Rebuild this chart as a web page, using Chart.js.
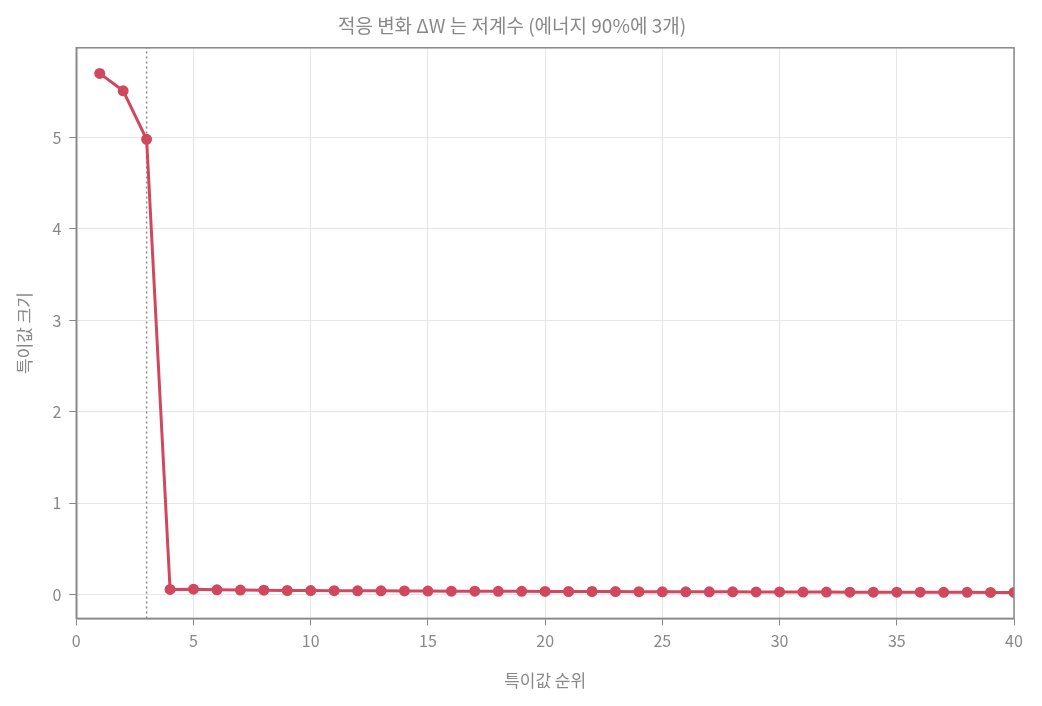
<!DOCTYPE html>
<html>
<head>
<meta charset="utf-8">
<script src="https://cdn.jsdelivr.net/npm/chart.js@4"></script>
<style>
  html, body { margin: 0; padding: 0; background: #fff; }
  #wrap { width: 1042px; height: 706px; }
</style>
</head>
<body>
<div id="wrap"><canvas id="svChart"></canvas></div>
<script>
// singular values of delta W, rank 1..40
const ranks = [1,2,3,4,5,6,7,8,9,10,11,12,13,14,15,16,17,18,19,20,
               21,22,23,24,25,26,27,28,29,30,31,32,33,34,35,36,37,38,39,40];
const singularValues = [5.70, 5.51, 4.98, 0.060, 0.062, 0.055, 0.053, 0.051, 0.048, 0.047,
                        0.046, 0.045, 0.044, 0.043, 0.042, 0.041, 0.040, 0.039, 0.039, 0.038,
                        0.037, 0.037, 0.036, 0.035, 0.034, 0.034, 0.033, 0.033, 0.032, 0.032,
                        0.031, 0.031, 0.030, 0.030, 0.029, 0.029, 0.028, 0.028, 0.027, 0.027];
const cutoffRank = 3;
const xTicks = [0, 5, 10, 15, 20, 25, 30, 35, 40];
const yTicks = [0, 1, 2, 3, 4, 5];

const yMin = -0.257, yMax = 5.98;
const gray = '#888888';
const font = '"Noto Sans CJK KR", "Noto Sans", sans-serif';

// draw frame on all four sides
const framePlugin = {
    id: 'frame',
    afterDraw(chart) {
        const a = chart.chartArea, c = chart.ctx;
        c.save();
        c.strokeStyle = gray;
        c.lineWidth = 1.5;
        c.strokeRect(a.left, a.top, a.right - a.left, a.bottom - a.top);
        c.restore();
    }
};

const ctx = document.getElementById('svChart').getContext('2d');
const chart = new Chart(ctx, {
    type: 'line',
    data: {
        datasets: [{
            label: '특이값',
            data: ranks.map((r, i) => ({ x: r, y: singularValues[i] })),
            borderColor: '#d1485e',
            backgroundColor: '#d1485e',
            borderWidth: 3,
            pointRadius: 4,
            pointHoverRadius: 4,
            tension: 0
        }, {
            label: 'cutoff',
            data: [{ x: cutoffRank, y: yMin }, { x: cutoffRank, y: yMax }],
            borderColor: '#888888',
            borderWidth: 1.5,
            borderDash: [2, 3],
            pointRadius: 0
        }]
    },
    options: {
        responsive: true,
        maintainAspectRatio: false,
        animation: false,
        layout: { padding: { left: 10, right: 28, top: 0, bottom: 15 } },
        plugins: {
            legend: { display: false },
            tooltip: { enabled: false },
            title: {
                display: true,
                text: '적응 변화 ΔW 는 저계수 (에너지 90%에 3개)',
                color: gray,
                font: { family: font, size: 19, weight: 'normal' },
                padding: { top: 14, bottom: 11 }
            }
        },
        scales: {
            x: {
                type: 'linear',
                min: 0,
                max: 40,
                afterBuildTicks: axis => { axis.ticks = xTicks.map(v => ({ value: v })); },
                ticks: { color: gray, font: { family: font, size: 16 }, padding: 6 },
                grid: { color: '#e6e6e6', tickColor: gray, tickLength: 7, drawTicks: true },
                border: { color: gray, width: 1.5 },
                title: {
                    display: true,
                    text: '특이값 순위',
                    color: gray,
                    font: { family: font, size: 17 },
                    padding: { top: 14, bottom: 0 }
                }
            },
            y: {
                min: yMin,
                max: yMax,
                afterBuildTicks: axis => { axis.ticks = yTicks.map(v => ({ value: v })); },
                ticks: { color: gray, font: { family: font, size: 16 }, padding: 8 },
                grid: { color: '#e6e6e6', tickColor: gray, tickLength: 7 },
                border: { color: gray, width: 1.5 },
                title: {
                    display: true,
                    text: '특이값 크기',
                    color: gray,
                    font: { family: font, size: 17 },
                    padding: { bottom: 10 }
                }
            }
        }
    },
    plugins: [framePlugin]
});
</script>
</body>
</html>
